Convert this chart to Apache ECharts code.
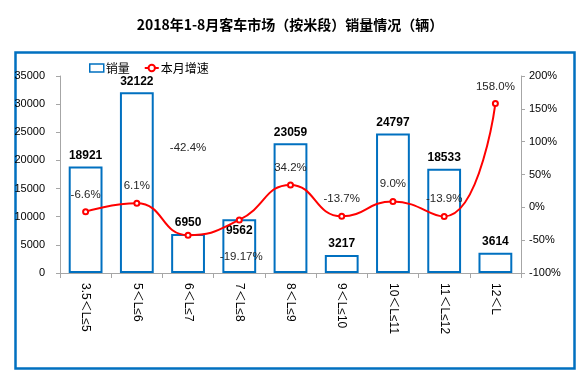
<!DOCTYPE html>
<html><head><meta charset="utf-8">
<script src="https://cdn.jsdelivr.net/npm/echarts@6/dist/echarts.min.js"></script>
<style>html,body{margin:0;padding:0;background:#fff}#c{width:580px;height:382px}</style>
</head><body><div id="c"></div>
<script>
const categories = ['3.5＜L≤5','5＜L≤6','6＜L≤7','7＜L≤8','8＜L≤9','9＜L≤10','10＜L≤11','11＜L≤12','12＜L'];
const sales = [18921, 32122, 6950, 9562, 23059, 3217, 24797, 18533, 3614];
const growth = [-6.6, 6.1, -42.4, -19.17, 34.2, -13.7, 9.0, -13.9, 158.0];
const growthText = ['-6.6%','6.1%','-42.4%','-19.17%','34.2%','-13.7%','9.0%','-13.9%','158.0%'];
const leftTicks = {min: 0, max: 35000, interval: 5000};
const rightTicks = {min: -100, max: 200, interval: 50};

const F = '"Liberation Sans", Arial, "Noto Sans CJK SC", sans-serif';
const chart = echarts.init(document.getElementById('c'), null, {renderer: 'canvas'});

const barData = sales.map((v, i) => {
  const d = {value: v};
  if (i === 3) d.label = {position: 'insideTop', distance: 6};
  return d;
});
const lineData = growth.map((v, i) => {
  const d = {value: v};
  if (i === 2) d.label = {offset: [0, -70]};
  if (i === 3) d.label = {position: 'bottom', offset: [2, 20]};
  return d;
});

chart.setOption({
  backgroundColor: '#fff',
  animation: false,
  title: {
    text: '2018年1-8月客车市场（按米段）销量情况（辆）',
    left: 'center', top: 13,
    textStyle: {fontSize: 14, fontWeight: 'bold', color: '#000', fontFamily: '"Noto Sans CJK SC", sans-serif'}
  },
  graphic: [{
    type: 'rect', left: 13, top: 50, z: -1,
    shape: {width: 559, height: 316},
    style: {fill: 'none', stroke: '#0070C0', lineWidth: 2.5}
  }],
  legend: {
    left: 84, top: 57, itemGap: 14, itemWidth: 14, itemHeight: 8,
    textStyle: {fontSize: 12, color: '#000', fontFamily: '"Noto Sans CJK SC", sans-serif', padding: [0,0,0,-3]},
    data: [
      {name: '销量', icon: 'rect', itemStyle: {color: '#fff', borderColor: '#0070C0', borderWidth: 1.5}},
      {name: '本月增速'}
    ]
  },
  grid: {left: 60, right: 59, top: 76, bottom: 109},
  xAxis: {
    type: 'category', data: categories,
    axisLine: {lineStyle: {color: '#A6A6A6'}},
    axisTick: {show: true, length: 5, alignWithLabel: false, lineStyle: {color: '#A6A6A6'}},
    axisLabel: {rotate: -90, margin: 10, fontSize: 12, color: '#000', fontFamily: F, interval: 0}
  },
  yAxis: [{
    type: 'value', min: leftTicks.min, max: leftTicks.max, interval: leftTicks.interval,
    splitLine: {show: false},
    axisLine: {show: true, lineStyle: {color: '#A6A6A6'}},
    axisTick: {show: true, length: 4, lineStyle: {color: '#A6A6A6'}},
    axisLabel: {fontSize: 11, color: '#000', margin: 15, fontFamily: F, formatter: v => String(v)}
  }, {
    type: 'value', min: rightTicks.min, max: rightTicks.max, interval: rightTicks.interval,
    splitLine: {show: false},
    axisLine: {show: true, lineStyle: {color: '#A6A6A6'}},
    axisTick: {show: true, length: 4, lineStyle: {color: '#A6A6A6'}},
    axisLabel: {fontSize: 11, color: '#000', margin: 8, fontFamily: F, formatter: '{value}%'}
  }],
  series: [{
    name: '销量', type: 'bar', yAxisIndex: 0, barWidth: '66%',
    data: barData,
    itemStyle: {color: '#fff', borderColor: '#0070C0', borderWidth: 2},
    label: {show: true, position: 'top', distance: 5, fontSize: 12, fontWeight: 'bold', color: '#000', fontFamily: F}
  }, {
    name: '本月增速', type: 'line', yAxisIndex: 1, smooth: 0.5,
    data: lineData,
    symbol: 'emptyCircle', symbolSize: 5,
    itemStyle: {color: '#FF0000'},
    lineStyle: {color: '#FF0000', width: 2},
    label: {show: true, position: 'top', distance: 8, fontSize: 11.5, color: '#262626', fontFamily: F,
      formatter: p => growthText[p.dataIndex]}
  }]
});
</script></body></html>
